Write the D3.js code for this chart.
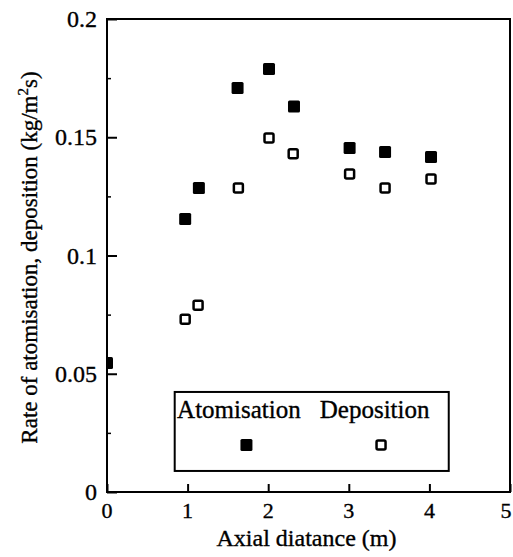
<html>
<head>
<script src="https://d3js.org/d3.v7.min.js"></script>
<style>
  body { margin: 0; background: #fff; }
  text { font-family: "Liberation Serif", "Times New Roman", Times, serif; fill: #000; stroke: #000; stroke-width: 0.35px; }
</style>
</head>
<body>
<div id="chart"></div>
<script>
// values
var xAtom = [0, 0.97, 1.14, 1.62, 2.01, 2.32, 3.01, 3.45, 4.02];
var yAtom = [0.0545, 0.1154, 0.1285, 0.1708, 0.1789, 0.163, 0.1455, 0.1438, 0.1416];
var xDep = [0.97, 1.13, 1.63, 2.01, 2.31, 3.01, 3.45, 4.02];
var yDep = [0.073, 0.079, 0.1285, 0.1497, 0.143, 0.1345, 0.1285, 0.1323];
var xTicks = [0, 1, 2, 3, 4, 5];
var yTicks = [0, 0.05, 0.1, 0.15, 0.2];
var yTickLabels = ["0", "0.05", "0.1", "0.15", "0.2"];

var margin = {top: 19, right: 3, bottom: 65, left: 107};
var width = 513 - margin.left - margin.right;
var height = 557 - margin.top - margin.bottom;

var x = d3.scaleLinear().domain([0, 5]).range([0, width]);
var y = d3.scaleLinear().domain([0, 0.2]).range([height, 0]);

var svg = d3.select("#chart").append("svg")
    .attr("width", 513)
    .attr("height", 557)
  .append("g")
    .attr("transform", "translate(" + margin.left + "," + margin.top + ")");

svg.append("clipPath").attr("id", "clip")
  .append("rect").attr("width", width).attr("height", height);

// frame
svg.append("rect")
    .attr("width", width).attr("height", height)
    .attr("fill", "none").attr("stroke", "#000").attr("stroke-width", 2);

// y axis, ticks pointing in
var yAxis = svg.append("g")
    .call(d3.axisRight(y).tickValues(yTicks).tickSize(10).tickFormat(""));
yAxis.select(".domain").remove();
yAxis.selectAll("line").attr("stroke-width", 2);
svg.append("g")
    .call(d3.axisRight(y).tickValues([0.025, 0.075, 0.125, 0.175]).tickSize(4).tickFormat(""))
    .call(function(g) { g.select(".domain").remove(); g.selectAll("line").attr("stroke-width", 1.5); });

svg.selectAll(".ylab")
    .data(yTicks)
  .enter().append("text")
    .attr("class", "ylab")
    .attr("x", -10)
    .attr("y", function(d) { return y(d) + 8; })
    .attr("text-anchor", "end")
    .style("font-size", "24px")
    .text(function(d, i) { return yTickLabels[i]; });

// x axis, ticks pointing up
var xAxis = svg.append("g")
    .attr("transform", "translate(0," + height + ")")
    .call(d3.axisTop(x).tickValues(xTicks).tickSize(8).tickFormat(""));
xAxis.select(".domain").remove();
xAxis.selectAll("line").attr("stroke-width", 2);

svg.selectAll(".xlab")
    .data(xTicks)
  .enter().append("text")
    .attr("class", "xlab")
    .attr("x", function(d) { return Math.min(x(d), width - 4); })
    .attr("y", height + 26)
    .attr("text-anchor", "middle")
    .style("font-size", "22px")
    .text(function(d) { return d; });

// axis titles
svg.append("text")
    .attr("x", width / 2 - 2)
    .attr("y", height + 54)
    .attr("text-anchor", "middle")
    .style("font-size", "24px")
    .text("Axial diatance (m)");

var yt = svg.append("text")
    .attr("transform", "translate(" + (-70) + "," + (height / 2 + 2) + ") rotate(-90)")
    .attr("text-anchor", "middle")
    .style("font-size", "23px");
yt.append("tspan").text("Rate of atomisation, deposition (kg/m");
yt.append("tspan").attr("dy", -9).style("font-size", "15px").text("2");
yt.append("tspan").attr("dy", 9).text("s)");

// points
var atom = xAtom.map(function(d, i) { return {x: d, y: yAtom[i]}; });
var dep = xDep.map(function(d, i) { return {x: d, y: yDep[i]}; });

var pts = svg.append("g").attr("clip-path", "url(#clip)");
pts.selectAll(".atom")
    .data(atom)
  .enter().append("rect")
    .attr("x", function(d) { return x(d.x) - 6; })
    .attr("y", function(d) { return y(d.y) - 6; })
    .attr("width", 12).attr("height", 12)
    .attr("rx", 1.5)
    .attr("fill", "#000");

pts.selectAll(".dep")
    .data(dep)
  .enter().append("rect")
    .attr("x", function(d) { return x(d.x) - 4.5; })
    .attr("y", function(d) { return y(d.y) - 4.5; })
    .attr("width", 9).attr("height", 9)
    .attr("rx", 1.5)
    .attr("fill", "#fff")
    .attr("stroke", "#000")
    .attr("stroke-width", 2.5);

// legend
var leg = svg.append("g");
leg.append("rect")
    .attr("x", x(0.84)).attr("y", y(0.0423))
    .attr("width", x(4.24) - x(0.84)).attr("height", y(0.0089) - y(0.0423))
    .attr("fill", "#fff").attr("stroke", "#000").attr("stroke-width", 2);
leg.append("text")
    .attr("x", x(0.87)).attr("y", y(0.0313))
    .style("font-size", "25px")
    .text("Atomisation");
leg.append("text")
    .attr("x", x(2.64)).attr("y", y(0.0313))
    .style("font-size", "25px")
    .text("Deposition");
leg.append("rect")
    .attr("x", x(1.73) - 6).attr("y", y(0.0199) - 6)
    .attr("width", 12).attr("height", 12).attr("rx", 1.5)
    .attr("fill", "#000");
leg.append("rect")
    .attr("x", x(3.4) - 4.5).attr("y", y(0.0199) - 4.5)
    .attr("width", 9).attr("height", 9).attr("rx", 1.5)
    .attr("fill", "#fff").attr("stroke", "#000").attr("stroke-width", 2.5);
</script>
</body>
</html>
